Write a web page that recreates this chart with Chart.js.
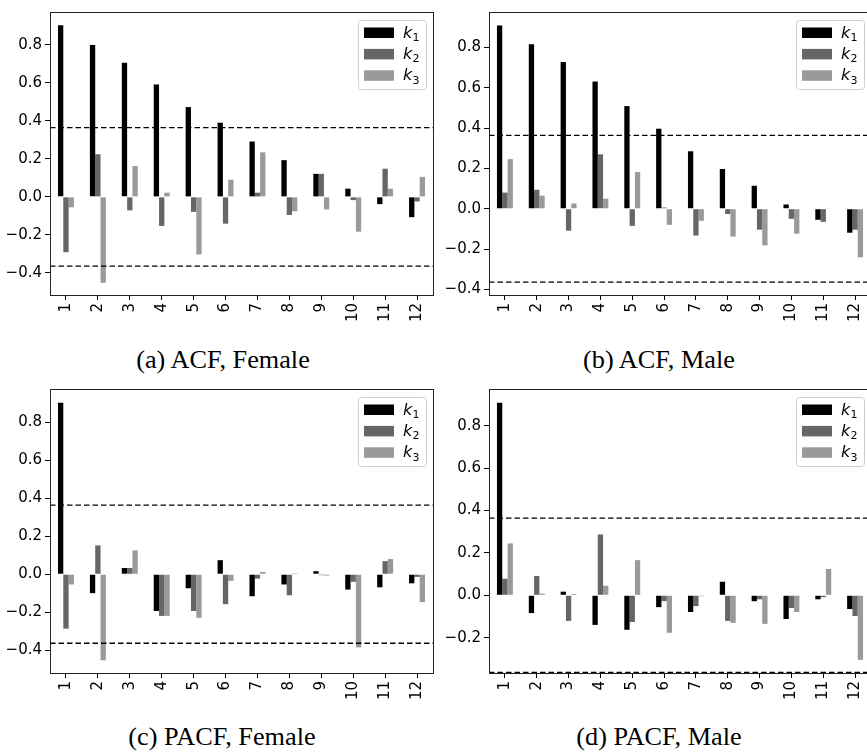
<!DOCTYPE html>
<html>
<head>
<meta charset="utf-8">
<script src="https://cdn.jsdelivr.net/npm/chart.js@4"></script>
<style>
body { margin: 0; width: 867px; height: 753px; overflow: hidden; background: #fff; position: relative; }
canvas { position: absolute; }
.cap { position: absolute; width: 300px; text-align: center; font-family: "Liberation Serif", serif;
       font-size: 25px; line-height: 1; color: #000; transform: scaleX(1.05); white-space: nowrap; }
</style>
</head>
<body>
<canvas id="acfFemale" width="440" height="330" style="left:0;top:0"></canvas>
<canvas id="acfMale" width="440" height="330" style="left:440px;top:0"></canvas>
<canvas id="pacfFemale" width="440" height="330" style="left:0;top:377px"></canvas>
<canvas id="pacfMale" width="440" height="330" style="left:440px;top:377px"></canvas>
<div class="cap" style="left:73px;top:347px">(a) ACF, Female</div>
<div class="cap" style="left:509px;top:347px">(b) ACF, Male</div>
<div class="cap" style="left:72px;top:724px">(c) PACF, Female</div>
<div class="cap" style="left:509px;top:724px">(d) PACF, Male</div>
<script>
var lags = ['1', '2', '3', '4', '5', '6', '7', '8', '9', '10', '11', '12'];
var seriesNames = ['k1', 'k2', 'k3'];
var seriesColors = ['#000000', '#666666', '#9a9a9a'];
var confBand = 0.364;

// ACF, Female
var acfFemaleK1 = [0.902, 0.798, 0.705, 0.591, 0.472, 0.390, 0.291, 0.193, 0.121, 0.043, -0.038, -0.107];
var acfFemaleK2 = [-0.291, 0.224, -0.071, -0.153, -0.079, -0.141, 0.022, -0.095, 0.121, -0.017, 0.148, -0.024];
var acfFemaleK3 = [-0.055, -0.452, 0.162, 0.022, -0.303, 0.090, 0.234, -0.076, -0.066, -0.183, 0.043, 0.105];

// ACF, Male
var acfMaleK1 = [0.909, 0.816, 0.728, 0.631, 0.509, 0.397, 0.285, 0.197, 0.114, 0.021, -0.055, -0.119];
var acfMaleK2 = [0.080, 0.094, -0.109, 0.270, -0.085, 0.006, -0.133, -0.026, -0.104, -0.050, -0.065, -0.104];
var acfMaleK3 = [0.246, 0.065, 0.026, 0.050, 0.182, -0.080, -0.060, -0.138, -0.182, -0.124, 0.003, -0.241];

// PACF, Female
var pacfFemaleK1 = [0.904, -0.100, 0.033, -0.194, -0.074, 0.074, -0.116, -0.054, 0.016, -0.081, -0.069, -0.048];
var pacfFemaleK2 = [-0.287, 0.152, 0.033, -0.220, -0.194, -0.158, -0.023, -0.111, -0.005, -0.040, 0.069, -0.014];
var pacfFemaleK3 = [-0.054, -0.454, 0.126, -0.220, -0.230, -0.035, 0.012, 0.005, -0.007, -0.386, 0.080, -0.147];

// PACF, Male
var pacfMaleK1 = [0.909, -0.084, 0.017, -0.140, -0.163, -0.056, -0.079, 0.064, -0.028, -0.112, -0.019, -0.065];
var pacfMaleK2 = [0.078, 0.091, -0.121, 0.287, -0.126, -0.028, -0.051, -0.121, -0.019, -0.060, -0.009, -0.098];
var pacfMaleK3 = [0.245, 0.008, 0.006, 0.045, 0.166, -0.177, -0.005, -0.130, -0.135, -0.079, 0.124, -0.305];

var tickFont = { family: '"DejaVu Sans"', size: 15 };

function fmtTick(v) {
    if (Math.abs(v) < 1e-9) return '0.0';
    return (v < 0 ? '\u2212' : '') + Math.abs(v).toFixed(1);
}

var framePlugin = {
    id: 'frame',
    afterDatasetsDraw: function(chart) {
        var ctx = chart.ctx, a = chart.chartArea, y = chart.scales.y;
        ctx.save();
        ctx.strokeStyle = '#000';
        ctx.lineWidth = 1.3;
        ctx.setLineDash([5.5, 3]);
        [confBand, -confBand].forEach(function(v) {
            var py = y.getPixelForValue(v);
            ctx.beginPath();
            ctx.moveTo(a.left, py);
            ctx.lineTo(a.right, py);
            ctx.stroke();
        });
        ctx.setLineDash([]);
        ctx.lineWidth = 1;
        ctx.strokeStyle = '#222';
        ctx.strokeRect(Math.round(a.left) + 0.5, Math.round(a.top) + 0.5,
                       Math.round(a.right - a.left), Math.round(a.bottom - a.top));
        ctx.restore();
    },
    afterDraw: function(chart) {
        // legend in the upper right corner of the plot
        var ctx = chart.ctx, a = chart.chartArea;
        var w = 68, h = 69;
        var bx = a.right - 7 - w, by = a.top + 8;
        ctx.save();
        ctx.fillStyle = 'rgba(255,255,255,0.85)';
        ctx.strokeStyle = '#d0d0d0';
        ctx.lineWidth = 1;
        ctx.beginPath();
        ctx.roundRect(bx + 0.5, by + 0.5, w, h, 3);
        ctx.fill();
        ctx.stroke();
        chart.data.datasets.forEach(function(ds, i) {
            var cy = by + 12.5 + i * 21.4;
            ctx.fillStyle = ds.backgroundColor;
            ctx.fillRect(bx + 6, cy - 5, 30, 10.5);
            ctx.fillStyle = '#000';
            ctx.textBaseline = 'alphabetic';
            ctx.font = 'oblique 16px "DejaVu Sans"';
            ctx.fillText(ds.label.charAt(0), bx + 45, cy + 5);
            ctx.font = '11px "DejaVu Sans"';
            ctx.fillText(ds.label.slice(1), bx + 54.5, cy + 8.5);
        });
        ctx.restore();
    }
};

function makeChart(id, k1, k2, k3, yMin, yMax, yWidth, pad, xHeight) {
    var sets = [k1, k2, k3].map(function(vals, i) {
        return {
            label: seriesNames[i],
            data: vals,
            backgroundColor: seriesColors[i],
            borderWidth: 0,
            categoryPercentage: 0.5,
            barPercentage: 1.0
        };
    });
    return new Chart(document.getElementById(id).getContext('2d'), {
        type: 'bar',
        data: { labels: lags, datasets: sets },
        plugins: [framePlugin],
        options: {
            responsive: false,
            animation: false,
            devicePixelRatio: 1,
            layout: { padding: pad },
            plugins: { legend: { display: false }, tooltip: { enabled: false } },
            scales: {
                x: {
                    type: 'category',
                    offset: true,
                    border: { display: false },
                    grid: { offset: false, drawOnChartArea: false, drawTicks: true, tickLength: 5, color: '#000' },
                    ticks: { autoSkip: false, minRotation: 90, maxRotation: 90, color: '#000', font: tickFont, padding: 3 },
                    afterFit: function(s) { s.height = xHeight; }
                },
                y: {
                    type: 'linear',
                    min: yMin,
                    max: yMax,
                    border: { display: false },
                    grid: { drawOnChartArea: false, drawTicks: true, tickLength: 5, color: '#000' },
                    ticks: { stepSize: 0.2, includeBounds: false, color: '#000', font: tickFont, padding: 3, callback: fmtTick },
                    afterFit: function(s) { s.width = yWidth; }
                }
            }
        }
    });
}

makeChart('acfFemale', acfFemaleK1, acfFemaleK2, acfFemaleK3, -0.516, 0.972, 50,
          { left: 0, right: 7, top: 7, bottom: 0 }, 35);
makeChart('acfMale', acfMaleK1, acfMaleK2, acfMaleK3, -0.428, 0.976, 49,
          { left: 0, right: 9, top: 7, bottom: 0 }, 35);
makeChart('pacfFemale', pacfFemaleK1, pacfFemaleK2, pacfFemaleK3, -0.521, 0.977, 50,
          { left: 0, right: 7, top: 7, bottom: 0 }, 34);
makeChart('pacfMale', pacfMaleK1, pacfMaleK2, pacfMaleK3, -0.367, 0.974, 49,
          { left: 0, right: 9, top: 7, bottom: 0 }, 34);
</script>
</body>
</html>
